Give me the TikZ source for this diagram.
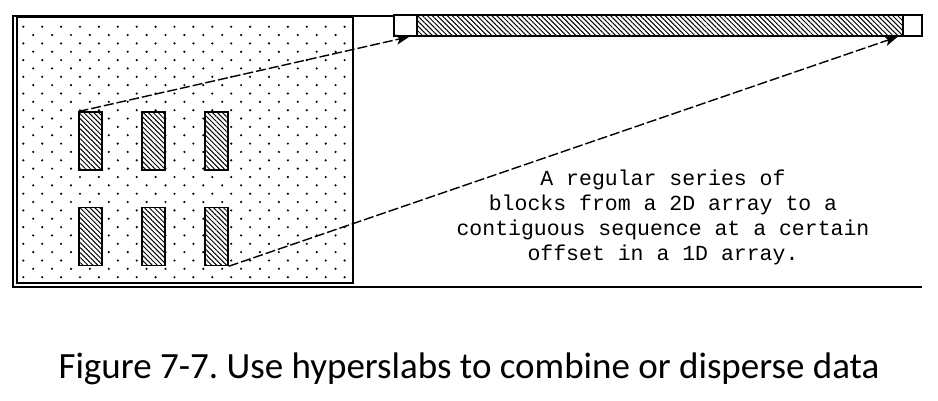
\documentclass[tikz,border=0pt]{standalone}
\usepackage{fontspec}
\setmainfont{Carlito}
\newfontfamily\macfont{Liberation Mono}
\usetikzlibrary{patterns.meta, arrows.meta, positioning}

\begin{document}
\begin{tikzpicture}[x=1pt, y=-1pt,
  slab/.style={draw, line width=1.5pt, minimum width=23pt, minimum height=58pt, inner sep=0pt,
    preaction={fill=white}, pattern={Lines[angle=-45, distance=3.5pt, line width=1pt]}},
  link/.style={line width=1.4pt, dash pattern=on 10pt off 3pt, -{Stealth[length=13pt, width=10pt, inset=3pt]}}]
\useasboundingbox (0,0) rectangle (938,400);
\fill[white] (0,0) rectangle (938,400);

% 2D array: dotted background
\foreach \r in {0,...,15} {
   \foreach \c in {0,...,17} {
      \fill (23.3+\c*18.9, 26.7+\r*16.7) circle (1.2);
   }
}
\foreach \r in {0,...,14} {
   \foreach \c in {0,...,16} {
      \fill (33.2+\c*18.9, 35+\r*16.7) circle (1.2);
   }
}
\draw[line width=1.5pt] (17,17) rectangle (353,283);

% outer frame
\draw[line width=2pt] (922,16) -- (13,16) -- (13,287) -- (922,287);

% blocks picked from the 2D array
\foreach \i/\x in {1/90.5, 2/153.5, 3/216.5} {
   \node[slab] (top\i) at (\x,141) {};
   \node[slab] (low\i) at (\x,236.5) {};
}

% 1D array
\node[draw, line width=1.5pt, fill=white, minimum width=528pt, minimum height=21pt, inner sep=0pt] (bar) at (658,25.5) {};
\node[draw, line width=1.2pt, pattern={Lines[angle=-45, distance=3.5pt, line width=1pt]},
   minimum width=486pt, minimum height=21pt, inner sep=0pt] (seq) at (660,25.5) {};

% mapping
\draw[link] (top1.north west) -- ([xshift=16pt]bar.south west);
\draw[link] (low3.south east) -- ([xshift=-25pt]bar.south east);

\node[font=\macfont\fontsize{21.5}{25}\selectfont, align=center] (note) at (663,217)
   {A regular series of\\blocks from a 2D array to a\\contiguous sequence at a certain\\offset in a 1D array.};

\node[font=\fontsize{37}{44}\selectfont, anchor=base] (caption) at (469,378)
   {\frenchspacing Figure 7-7. Use hyperslabs to combine or disperse data};
\end{tikzpicture}
\end{document}
